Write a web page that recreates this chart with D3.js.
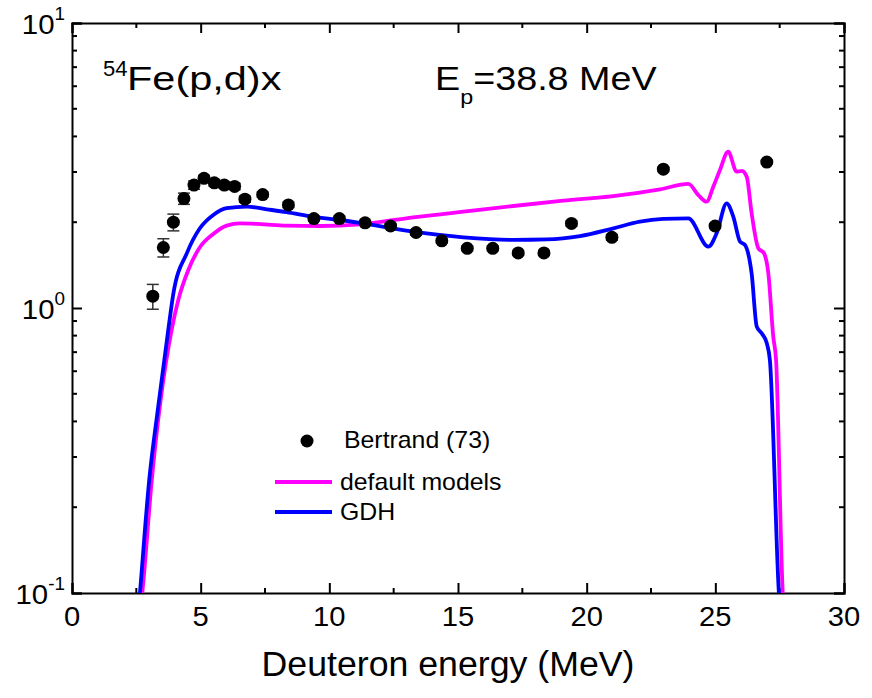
<!DOCTYPE html>
<html lang="en">
<head>
<meta charset="UTF-8">
<title>54Fe(p,d)x</title>
<style>
  body { margin: 0; background: #fff; }
  text { font-family: Arial, "Liberation Sans", sans-serif; fill: #000; }
</style>
</head>
<body>
<script src="https://d3js.org/d3.v7.min.js"></script>
<script>
// Bertrand (73) data
const expE = [3.14, 3.55, 3.94, 4.35, 4.74, 5.13, 5.53, 5.92, 6.32, 6.72, 7.41, 8.41, 9.40, 10.39,
              11.39, 12.38, 13.37, 14.37, 15.36, 16.35, 17.34, 18.34, 19.41, 20.98, 22.98, 24.99, 27.0];
const expV = [1.10, 1.63, 2.00, 2.42, 2.70, 2.85, 2.75, 2.70, 2.67, 2.41, 2.50, 2.30, 2.06, 2.06,
              1.99, 1.94, 1.84, 1.72, 1.62, 1.62, 1.56, 1.56, 1.98, 1.77, 3.07, 1.94, 3.25];
const expErr = [0.11, 0.12, 0.135, 0.11, 0.09, 0.07, 0.07, 0.07, 0.07, 0.06, 0.05, 0.05, 0.04, 0.04,
                0.04, 0.04, 0.04, 0.03, 0.03, 0.03, 0.03, 0.03, 0.04, 0.04, 0.05, 0.04, 0.05];

// default models (magenta)
const defE = [2.6, 2.73, 3.10, 3.45, 3.87, 4.13, 4.52, 4.97, 5.49, 6.01, 6.53, 7.31, 8.34, 9.64, 11.19,
              13.26, 15.21, 17.15, 19.09, 21.03, 22.85, 23.95, 24.34, 24.66, 24.92, 25.18, 25.50,
              25.83, 26.03, 26.22, 26.41, 26.67, 26.89, 27.06, 27.25, 27.36, 27.62, 27.7];
const defV = [0.08, 0.10, 0.249, 0.48, 0.837, 1.067, 1.36, 1.633, 1.818, 1.945, 1.98, 1.97, 1.945, 1.94, 1.966,
              2.08, 2.177, 2.28, 2.38, 2.47, 2.61, 2.724, 2.49, 2.36, 2.665, 3.05, 3.535,
              3.008, 3.03, 2.89, 2.149, 1.62, 1.556, 1.323, 0.794, 0.657, 0.10, 0.08];

// GDH (blue)
const gdhE = [2.55, 2.64, 3.0, 3.35, 3.74, 3.94, 4.46, 4.97, 5.49, 6.01, 6.79, 7.57, 8.34, 9.38, 10.41,
              11.32, 13.26, 15.21, 17.15, 18.45, 19.74, 21.04, 22.07, 22.98, 23.95, 24.73, 25.05,
              25.44, 25.70, 25.96, 26.15, 26.41, 26.61, 26.80, 27.0, 27.12, 27.47, 27.55];
const gdhV = [0.08, 0.10, 0.249, 0.45, 0.837, 1.126, 1.555, 1.904, 2.12, 2.24, 2.27, 2.22, 2.17, 2.09, 2.036,
              1.98, 1.853, 1.77, 1.733, 1.74, 1.789, 1.904, 2.008, 2.053, 2.064, 1.641, 1.828,
              2.33, 2.09, 1.709, 1.664, 1.323, 0.86, 0.815, 0.752, 0.657, 0.10, 0.08];

const xTicks = [0, 5, 10, 15, 20, 25, 30];
const yTicks = [0.1, 1, 10];
const yExp = ["-1", "0", "1"];

const W = 872, H = 698;
const mLeft = 72, mRight = 844, mTop = 23, mBottom = 593;

const svg = d3.select("body").append("svg")
  .attr("width", W).attr("height", H);

const x = d3.scaleLinear().domain([0, 30]).range([mLeft, mRight]);
const y = d3.scaleLog().domain([0.1, 10]).range([mBottom, mTop]);

// text that is a bit wider than plain Arial, like the original export
function wideText(g, px, py, size, sx) {
  return g.append("text")
    .attr("transform", `translate(${px},${py}) scale(${sx},1)`)
    .attr("font-size", size);
}

svg.append("clipPath").attr("id", "clip")
  .append("rect").attr("x", mLeft).attr("y", mTop)
  .attr("width", mRight - mLeft).attr("height", mBottom - mTop);

const minorX = d3.range(0, 30.01, 2.5).filter(d => d % 5 !== 0);
const minorY = [];
[0.1, 1].forEach(b => { for (let k = 2; k <= 9; k++) minorY.push(b * k); });

// axes with inward ticks on all sides
const gb = svg.append("g").attr("transform", `translate(0,${mBottom})`)
  .call(d3.axisBottom(x).tickValues(xTicks).tickSize(-10).tickFormat(""));
gb.selectAll(".minor").data(minorX).join("line").attr("class", "minor")
  .attr("x1", d => x(d)).attr("x2", d => x(d)).attr("y1", 0).attr("y2", -5);
const gt = svg.append("g").attr("transform", `translate(0,${mTop})`)
  .call(d3.axisTop(x).tickValues(xTicks).tickSize(-10).tickFormat(""));
gt.selectAll(".minor").data(minorX).join("line").attr("class", "minor")
  .attr("x1", d => x(d)).attr("x2", d => x(d)).attr("y1", 0).attr("y2", 5);

const gl = svg.append("g").attr("transform", `translate(${mLeft},0)`)
  .call(d3.axisLeft(y).tickValues(yTicks).tickSize(-10).tickFormat(""));
gl.selectAll(".minor").data(minorY).join("line").attr("class", "minor")
  .attr("y1", d => y(d)).attr("y2", d => y(d)).attr("x1", 0).attr("x2", 5);
const gr = svg.append("g").attr("transform", `translate(${mRight},0)`)
  .call(d3.axisRight(y).tickValues(yTicks).tickSize(-10).tickFormat(""));
gr.selectAll(".minor").data(minorY).join("line").attr("class", "minor")
  .attr("y1", d => y(d)).attr("y2", d => y(d)).attr("x1", 0).attr("x2", -5);

svg.selectAll(".domain").attr("stroke", "#000").attr("stroke-width", 2);
svg.selectAll(".tick line, line.minor").attr("stroke", "#000").attr("stroke-width", 2);

// tick labels
const xl = svg.append("g");
xTicks.forEach(d => {
  wideText(xl, x(d), mBottom + 33, 27, 1.08).attr("text-anchor", "middle").text(d);
});

const yg = svg.append("g");
yTicks.forEach((d, i) => {
  const t = wideText(yg, 65, y(d) + 11, 28, 1.05).attr("text-anchor", "end");
  t.append("tspan").text("10");
  t.append("tspan").attr("dy", -14).attr("font-size", 18).text(yExp[i]);
});

// axis title
wideText(svg, 448, 676, 35, 1.02)
  .attr("text-anchor", "middle")
  .text("Deuteron energy (MeV)");

// annotations
wideText(svg, 103, 76, 22, 1.0).text("54");
wideText(svg, 127, 90, 34, 1.22).text("Fe(p,d)x");

const t2 = wideText(svg, 435, 90, 34, 1.11);
t2.append("tspan").text("E");
t2.append("tspan").attr("font-size", 21).attr("dy", 14).text("p");
t2.append("tspan").attr("dy", -14).text("=38.8 MeV");

// curves
const plot = svg.append("g").attr("clip-path", "url(#clip)");
const line = d3.line().x(d => x(d[0])).y(d => y(d[1])).curve(d3.curveMonotoneX);

plot.append("path").datum(d3.zip(defE, defV))
  .attr("fill", "none").attr("stroke", "#ff00ff").attr("stroke-width", 3.8)
  .attr("stroke-linejoin", "round").attr("d", line);
plot.append("path").datum(d3.zip(gdhE, gdhV))
  .attr("fill", "none").attr("stroke", "#0000ff").attr("stroke-width", 3.8)
  .attr("stroke-linejoin", "round").attr("d", line);

// experimental points with error bars
const pts = d3.zip(expE, expV, expErr);
const eb = plot.append("g").attr("stroke", "#333").attr("stroke-width", 1.5);
eb.selectAll(".v").data(pts).join("line").attr("class", "v")
  .attr("x1", d => x(d[0])).attr("x2", d => x(d[0]))
  .attr("y1", d => y(d[1] + d[2])).attr("y2", d => y(d[1] - d[2]));
eb.selectAll(".t").data(pts).join("line").attr("class", "t")
  .attr("x1", d => x(d[0]) - 6).attr("x2", d => x(d[0]) + 6)
  .attr("y1", d => y(d[1] + d[2])).attr("y2", d => y(d[1] + d[2]));
eb.selectAll(".b").data(pts).join("line").attr("class", "b")
  .attr("x1", d => x(d[0]) - 6).attr("x2", d => x(d[0]) + 6)
  .attr("y1", d => y(d[1] - d[2])).attr("y2", d => y(d[1] - d[2]));
plot.append("g").selectAll("circle").data(pts).join("circle")
  .attr("cx", d => x(d[0])).attr("cy", d => y(d[1])).attr("r", 6.5).attr("fill", "#000");

// legend
const lg = svg.append("g");
lg.append("circle").attr("cx", 307).attr("cy", 441).attr("r", 6.5).attr("fill", "#000");
wideText(lg, 344, 448, 23, 1.08).text("Bertrand (73)");
lg.append("line").attr("x1", 275).attr("x2", 332).attr("y1", 482).attr("y2", 482)
  .attr("stroke", "#ff00ff").attr("stroke-width", 3.8);
wideText(lg, 340, 490, 23, 1.08).text("default models");
lg.append("line").attr("x1", 275).attr("x2", 332).attr("y1", 512).attr("y2", 512)
  .attr("stroke", "#0000ff").attr("stroke-width", 3.8);
wideText(lg, 340, 520, 23, 1.08).text("GDH");
</script>
</body>
</html>
